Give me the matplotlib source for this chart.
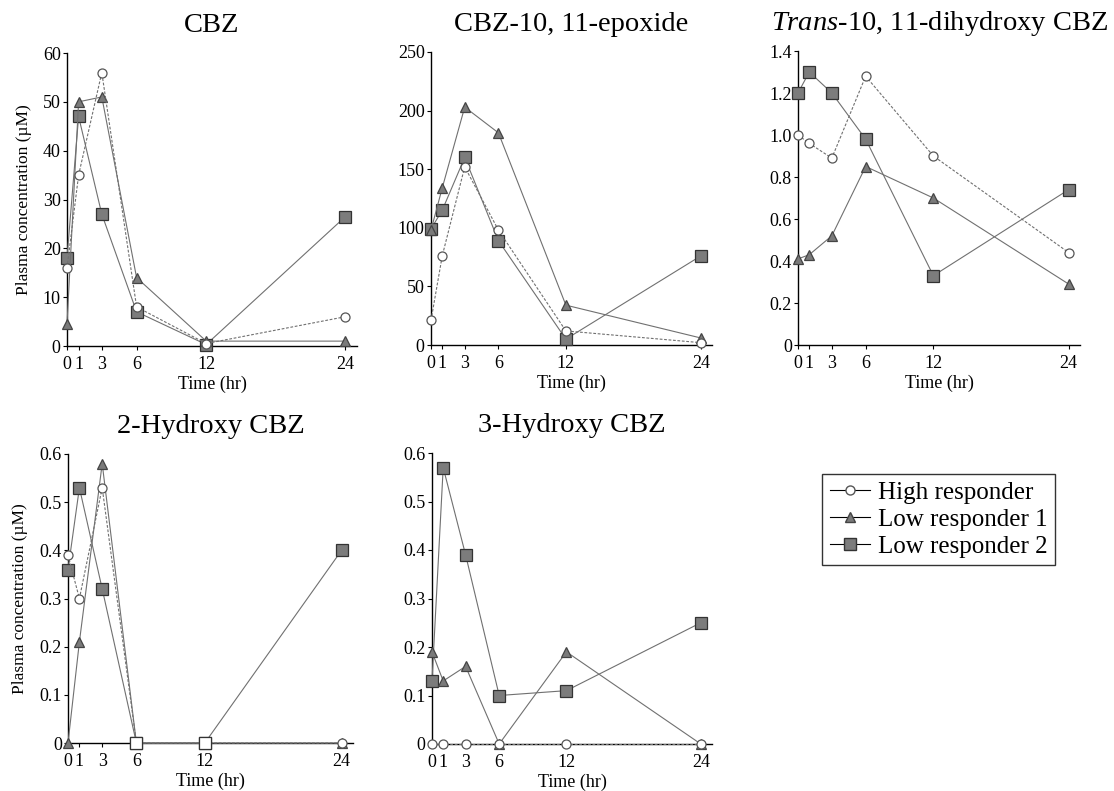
import numpy as np
import matplotlib
matplotlib.use("Agg")
import matplotlib.pyplot as plt
from matplotlib.lines import Line2D

plt.rcParams["font.family"] = ["Liberation Serif", "DejaVu Serif"]
plt.rcParams["mathtext.fontset"] = "custom"
plt.rcParams["mathtext.rm"] = "Liberation Serif"
plt.rcParams["mathtext.it"] = "Liberation Serif:italic"

# sampling times (hr)
times = [0, 1, 3, 6, 12, 24]
time_labels = ["0", "1", "3", "6", "12", "24"]

series_names = ["High responder", "Low responder 1", "Low responder 2"]

# CBZ (uM)
cbz_high = [16, 35, 56, 8, 0.5, 6]
cbz_low1 = [4.5, 50, 51, 14, 1, 1]
cbz_low2 = [18, 47, 27, 7, 0.3, 26.5]

# CBZ-10,11-epoxide
epo_high = [21, 76, 152, 98, 12, 2]
epo_low1 = [98, 134, 203, 181, 34, 6]
epo_low2 = [99, 115, 160, 89, 5, 76]

# trans-10,11-dihydroxy CBZ
dih_high = [1.00, 0.96, 0.89, 1.28, 0.90, 0.44]
dih_low1 = [0.41, 0.43, 0.52, 0.85, 0.70, 0.29]
dih_low2 = [1.20, 1.30, 1.20, 0.98, 0.33, 0.74]

# 2-hydroxy CBZ
h2_high = [0.39, 0.30, 0.53, 0, 0, 0]
h2_low1 = [0, 0.21, 0.58, 0, 0, 0]
h2_low2 = [0.36, 0.53, 0.32, 0, 0, 0.40]

# 3-hydroxy CBZ
h3_high = [0, 0, 0, 0, 0, 0]
h3_low1 = [0.19, 0.13, 0.16, 0, 0.19, 0]
h3_low2 = [0.13, 0.57, 0.39, 0.10, 0.11, 0.25]

titles = ["CBZ", "CBZ-10, 11-epoxide", r"$\mathit{Trans}$-10, 11-dihydroxy CBZ",
          "2-Hydroxy CBZ", "3-Hydroxy CBZ"]
yticks = [
    [0, 10, 20, 30, 40, 50, 60],
    [0, 50, 100, 150, 200, 250],
    [0, 0.2, 0.4, 0.6, 0.8, 1.0, 1.2, 1.4],
    [0, 0.1, 0.2, 0.3, 0.4, 0.5, 0.6],
    [0, 0.1, 0.2, 0.3, 0.4, 0.5, 0.6],
]
ytick_labels = [
    ["0", "10", "20", "30", "40", "50", "60"],
    ["0", "50", "100", "150", "200", "250"],
    ["0", "0.2", "0.4", "0.6", "0.8", "1.0", "1.2", "1.4"],
    ["0", "0.1", "0.2", "0.3", "0.4", "0.5", "0.6"],
    ["0", "0.1", "0.2", "0.3", "0.4", "0.5", "0.6"],
]
panels = [
    (cbz_high, cbz_low1, cbz_low2),
    (epo_high, epo_low1, epo_low2),
    (dih_high, dih_low1, dih_low2),
    (h2_high, h2_low1, h2_low2),
    (h3_high, h3_low1, h3_low2),
]

W, H = 1114, 791
fig = plt.figure(figsize=(W / 100, H / 100), dpi=100)

# axes boxes in pixels: left, top, right, bottom
boxes = [
    (67, 53, 357, 346),
    (431, 52, 712, 345),
    (798, 51, 1080, 345),
    (68, 454, 353, 743),
    (432, 453, 712, 744),
]

line_col = "#707070"
styles = [
    dict(marker="o", mfc="white", mec="#555555", ms=6.5, ls=(0, (2.5, 1.5))),
    dict(marker="^", mfc="#7a7a7a", mec="#444444", ms=7, ls="-"),
    dict(marker="s", mfc="#7c7c7c", mec="#333333", ms=8, ls="-"),
]

for i, (box, data) in enumerate(zip(boxes, panels)):
    l, t, r, b = box
    ax = fig.add_axes([l / W, 1 - b / H, (r - l) / W, (b - t) / H])
    # draw squares first, circles last
    for k in (2, 1, 0):
        st = styles[k]
        ax.plot(times, data[k], color=line_col, lw=0.8, ls=st["ls"],
                marker=st["marker"], mfc=st["mfc"], mec=st["mec"],
                ms=st["ms"], mew=0.9, clip_on=False, zorder=3 + (2 - k))
    # low responder 2 at zero shown as open squares
    low2 = np.array(data[2])
    zt = np.array(times)[low2 == 0]
    if len(zt):
        ax.plot(zt, low2[low2 == 0], ls="none", marker="s", mfc="white",
                mec="#333333", ms=8, mew=0.9, clip_on=False, zorder=7)

    ax.set_xlim(0, 25)
    ax.set_ylim(0, yticks[i][-1])
    ax.set_xticks(times)
    ax.set_xticklabels(time_labels)
    ax.set_yticks(yticks[i])
    ax.set_yticklabels(ytick_labels[i])
    ax.spines["top"].set_visible(False)
    ax.spines["right"].set_visible(False)
    ax.spines["left"].set_linewidth(1.0)
    ax.spines["bottom"].set_linewidth(1.0)
    ax.tick_params(direction="out", length=3, width=0.8, labelsize=13, pad=1.5)
    ax.tick_params(axis="x", pad=4)
    ax.set_xlabel("Time (hr)", fontsize=13, labelpad=2)
    if i in (0, 3):
        ax.set_ylabel("Plasma concentration (µM)", fontsize=12.5, labelpad=8)
    ax.set_title(titles[i], fontsize=20.5, pad=15)

handles = [
    Line2D([], [], color="black", lw=0.8, marker=s["marker"], mfc=s["mfc"],
           mec=s["mec"], ms=s["ms"])
    for s in styles
]
leg = fig.legend(handles, series_names, loc="upper left",
                 bbox_to_anchor=(822 / W, 1 - 474 / H), fontsize=18,
                 frameon=True, fancybox=False, handlelength=1.6,
                 handletextpad=0.35, borderpad=0.3, labelspacing=0.17,
                 borderaxespad=0)
leg.get_frame().set_edgecolor("black")
leg.get_frame().set_linewidth(1.0)

fig.savefig("out.png", dpi=100)
